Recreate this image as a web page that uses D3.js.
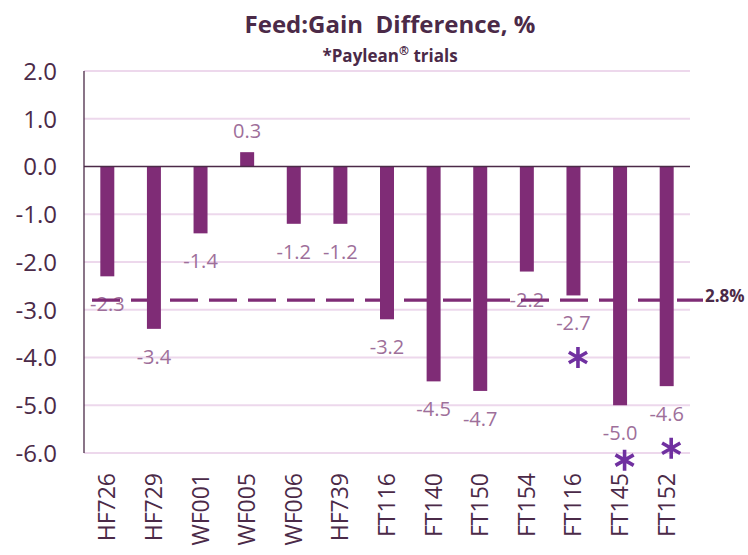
<!DOCTYPE html>
<html><head><meta charset="utf-8">
<script src="https://cdn.jsdelivr.net/npm/d3@7"></script>
<style>body{margin:0;background:#fff}svg{display:block}</style>
</head><body>
<svg id="c" width="748" height="555"></svg>
<script>
const categories = ["HF726","HF729","WF001","WF005","WF006","HF739","FT116","FT140","FT150","FT154","FT116","FT145","FT152"];
const values = [-2.3,-3.4,-1.4,0.3,-1.2,-1.2,-3.2,-4.5,-4.7,-2.2,-2.7,-5.0,-4.6];
const yTicks = [2,1,0,-1,-2,-3,-4,-5,-6];
const averageValue = -2.8;
const averageLabel = "2.8%";
const markerIndex = [10,11,12];
const markerValue = [-4.0,-6.15,-5.9];
const title = "Feed:Gain\u00a0 Difference, %";

const svg = d3.select("#c");
const m = {left:84, right:690, top:71, bottom:453};
const x = d3.scaleBand().domain(d3.range(categories.length)).range([m.left, m.right]).paddingInner(0.7).paddingOuter(0.35);
const y = d3.scaleLinear().domain([-6, 2]).range([m.bottom, m.top]);
const font = "'Open Sans', sans-serif";
const barColor = "#7F2C76", dark = "#4B2A48", lab = "#9E6F9A", grid = "#EDD8EC";
const fmt = d => d.toFixed(1);

// gridlines
svg.append("g").selectAll("line").data(yTicks.filter(d=>d!==0)).join("line")
  .attr("x1", m.left).attr("x2", m.right).attr("y1", d=>y(d)).attr("y2", d=>y(d))
  .attr("stroke", grid).attr("stroke-width", 2);

// y axis tick labels
const yAxis = d3.axisLeft(y).tickValues(yTicks).tickFormat(fmt).tickSize(0).tickPadding(27);
const ga = svg.append("g").attr("transform", `translate(${m.left},0)`).call(yAxis);
ga.select(".domain").remove();
ga.selectAll("text").attr("font-family", font).attr("font-size", 24).attr("fill", dark).attr("dy", "0.35em");

// value labels
svg.append("g").selectAll("text").data(values).join("text")
  .attr("x", (d,i)=>x(i)+x.bandwidth()/2)
  .attr("y", d=> d>=0 ? y(d)-14 : y(d)+35)
  .attr("text-anchor","middle").attr("font-family", font).attr("font-size", 20).attr("fill", lab)
  .text(fmt);

// average dashed line
svg.append("line").attr("x1", 92).attr("x2", 703).attr("y1", y(averageValue)).attr("y2", y(averageValue))
  .attr("stroke", barColor).attr("stroke-width", 3.3).attr("stroke-dasharray", "28 11");
svg.append("text").attr("x", 705).attr("y", y(averageValue)+2).attr("font-family", font).attr("font-weight","bold")
  .attr("font-size", 17).attr("fill", dark).text(averageLabel);

// bars
svg.append("g").selectAll("rect").data(values).join("rect")
  .attr("x", (d,i)=>x(i)).attr("width", x.bandwidth())
  .attr("y", d=>y(Math.max(0,d))).attr("height", d=>Math.abs(y(d)-y(0)))
  .attr("fill", barColor);

// zero line & left axis
svg.append("line").attr("x1", m.left).attr("x2", m.right).attr("y1", y(0)).attr("y2", y(0)).attr("stroke", dark).attr("stroke-width", 1.3);
svg.append("line").attr("x1", m.left).attr("x2", m.left).attr("y1", y(2)).attr("y2", y(-6)).attr("stroke", dark).attr("stroke-width", 1.3);

// x labels
svg.append("g").selectAll("text").data(categories).join("text")
  .attr("transform", (d,i)=>`translate(${x(i)+x.bandwidth()/2+8},473) rotate(-90)`)
  .attr("text-anchor","end").attr("font-family", font).attr("font-size", 23).attr("fill", dark)
  .text(d=>d);

// asterisk markers
const r = 10.5;
const star = d3.range(3).map(k=>{const a=k*Math.PI/3; return `M${r*Math.sin(a)},${-r*Math.cos(a)}L${-r*Math.sin(a)},${r*Math.cos(a)}`;}).join("");
svg.append("g").selectAll("path").data(markerIndex).join("path")
  .attr("transform", (d,k)=>`translate(${x(d)+x.bandwidth()/2+4.5},${y(markerValue[k])})`)
  .attr("d", star).attr("stroke", "#7030A0").attr("stroke-width", 3.6).attr("fill","none");

// titles
svg.append("text").attr("x", 390).attr("y", 33).attr("text-anchor","middle").attr("font-family", font)
  .attr("font-weight","bold").attr("font-size", 24).attr("fill", dark).text(title);
const st = svg.append("text").attr("x", 390).attr("y", 62).attr("text-anchor","middle").attr("font-family", font)
  .attr("font-weight","bold").attr("font-size", 17).attr("fill", dark);
st.append("tspan").text("*Paylean");
st.append("tspan").attr("font-size", 12).attr("dy", -7).text("®");
st.append("tspan").attr("dy", 7).text(" trials");
</script>
</body></html>
